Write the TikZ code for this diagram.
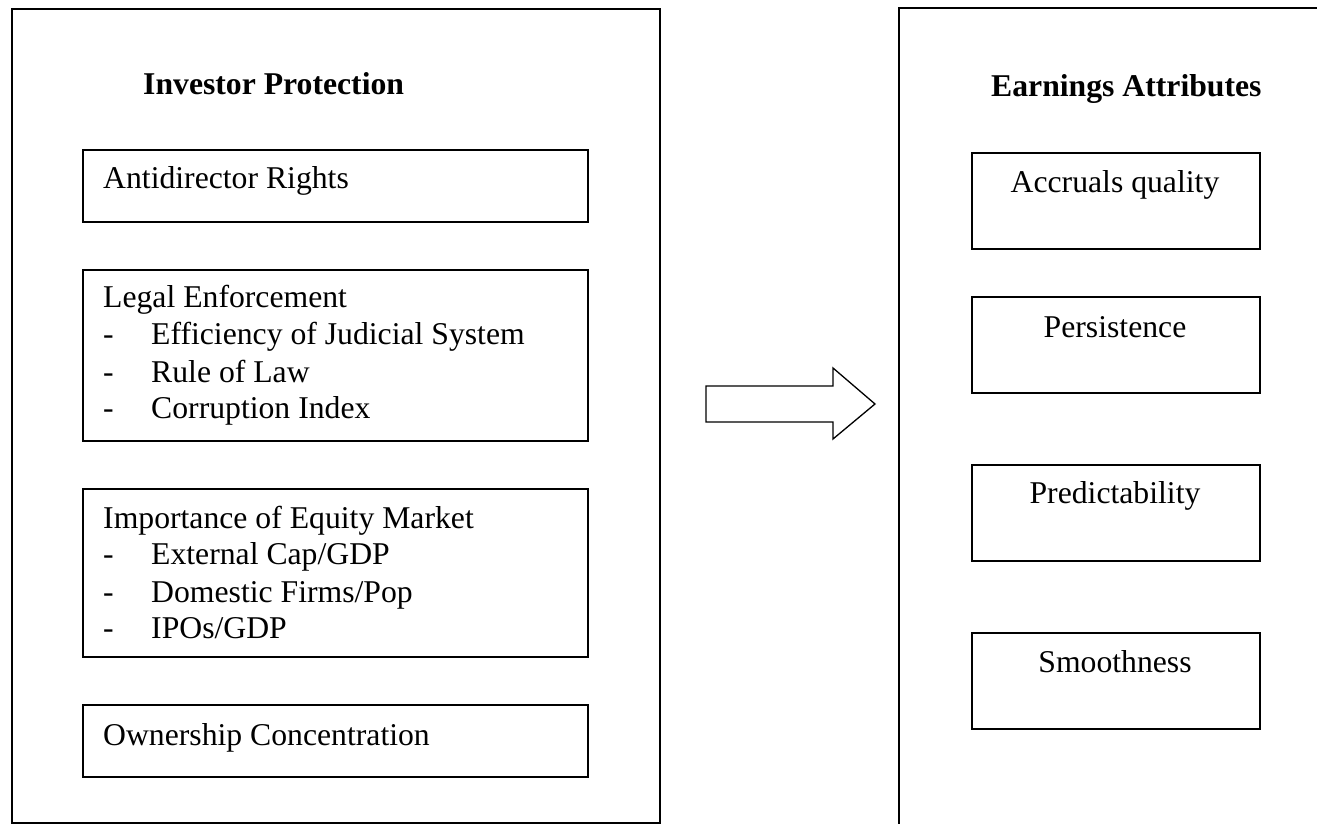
\documentclass[tikz,border=0pt]{standalone}
\usepackage{fontspec}
\setmainfont{Liberation Serif}
\begin{document}
\begin{tikzpicture}[x=1pt,y=-1pt,
  frame/.style={draw=black, line width=1.8pt},
  box/.style={draw=black, line width=1.8pt, inner sep=0pt, anchor=north west},
  txt/.style={inner sep=0pt, anchor=base west, font=\fontsize{31.7}{37}\selectfont},
  ctxt/.style={inner sep=0pt, anchor=base, font=\fontsize{31.7}{37}\selectfont},
  ttl/.style={inner sep=0pt, anchor=base west, font=\fontsize{31.7}{37}\selectfont\bfseries}]
\useasboundingbox (0,0) rectangle (1317,824);
% big frames
\node[box, minimum width=648pt, minimum height=814pt] (left) at (11,8) {};
\coordinate (rtl) at (899,8);
\draw[frame] (1320,8) -- (rtl) -- (899,828);
% titles
\node[ttl] (tip) at (143,95) {Investor Protection};
\node[ttl] (tea) at (991,97) {Earnings Attributes};
% left boxes
\node[box, minimum width=505pt, minimum height=72pt] (b1) at (82,149) {};
\node[txt] (t1) at (103,188) {Antidirector Rights};
\node[box, minimum width=505pt, minimum height=171pt] (b2) at (82,269) {};
\node[txt] (t2) at (103,307) {Legal Enforcement};
\node[txt] (d21) at (103,344) {-};
\node[txt] (t21) at (151,344) {Efficiency of Judicial System};
\node[txt] (d22) at (103,382) {-};
\node[txt] (t22) at (151,382) {Rule of Law};
\node[txt] (d23) at (103,418) {-};
\node[txt] (t23) at (151,418) {Corruption Index};
\node[box, minimum width=505pt, minimum height=168pt] (b3) at (82,488) {};
\node[txt] (t3) at (103,528) {Importance of Equity Market};
\node[txt] (d31) at (103,564) {-};
\node[txt] (t31) at (151,564) {External Cap/GDP};
\node[txt] (d32) at (103,602) {-};
\node[txt] (t32) at (151,602) {Domestic Firms/Pop};
\node[txt] (d33) at (103,638) {-};
\node[txt] (t33) at (151,638) {IPOs/GDP};
\node[box, minimum width=505pt, minimum height=72pt] (b4) at (82,704) {};
\node[txt] (t4) at (103,745) {Ownership Concentration};
% right boxes
\node[box, minimum width=288pt, minimum height=96pt] (r1) at (971,152) {};
\node[ctxt] (u1) at (1115,192) {Accruals quality};
\node[box, minimum width=288pt, minimum height=96pt] (r2) at (971,296) {};
\node[ctxt] (u2) at (1115,337) {Persistence};
\node[box, minimum width=288pt, minimum height=96pt] (r3) at (971,464) {};
\node[ctxt] (u3) at (1115,503) {Predictability};
\node[box, minimum width=288pt, minimum height=96pt] (r4) at (971,632) {};
\node[ctxt] (u4) at (1115,672) {Smoothness};
% block arrow
\coordinate (tipA) at (875,404);
\draw[line width=1.3pt, line join=miter] (706,386) -- (833,386) -- (833,368) -- (tipA) -- (833,439) -- (833,422) -- (706,422) -- cycle;
\end{tikzpicture}
\end{document}
